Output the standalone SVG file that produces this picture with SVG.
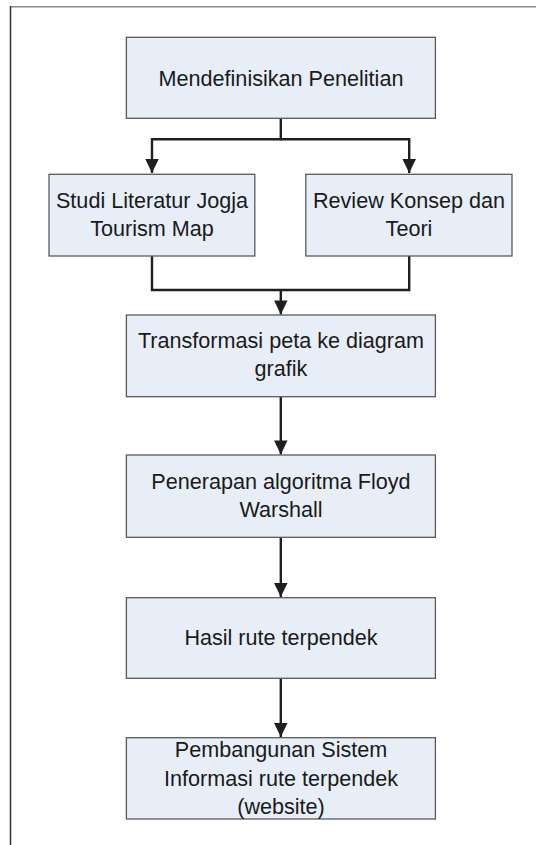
<svg xmlns="http://www.w3.org/2000/svg" width="536" height="845" viewBox="0 0 536 845">
<defs>
<style>
.box{fill:#e7eef7;stroke:#5a5a5a;stroke-width:1.3}
.lbl{font-family:"Liberation Sans",Arial,sans-serif;font-size:21.6px;fill:#1a1a1a;text-anchor:middle}
.con{fill:none;stroke:#1f1f1f;stroke-width:2.4}
</style>
<marker id="arr" markerUnits="userSpaceOnUse" markerWidth="14" markerHeight="14" viewBox="0 0 13 13.5" refX="13.5" refY="6.5" orient="auto">
<path d="M0,0 L13.5,6.5 L0,13 Z" fill="#1f1f1f"/>
</marker>
</defs>
<rect width="536" height="845" fill="#fff"/>
<line x1="10" y1="6.7" x2="536" y2="6.7" stroke="#8a8a8a" stroke-width="1.6"/>
<line x1="10.5" y1="6" x2="10.5" y2="845" stroke="#333" stroke-width="1.5"/>
<g id="connectors">
<path class="con" d="M280.8,118 V139.3 H152 V173" marker-end="url(#arr)"/>
<path class="con" d="M280.8,139.3 H409.2 V173" marker-end="url(#arr)"/>
<path class="con" d="M152,256 V290 H409.2 V256"/>
<path class="con" d="M280.8,290 V314.5" marker-end="url(#arr)"/>
<path class="con" d="M280.8,397 V454.5" marker-end="url(#arr)"/>
<path class="con" d="M280.8,537.3 V597" marker-end="url(#arr)"/>
<path class="con" d="M280.8,678.3 V737" marker-end="url(#arr)"/>
</g>
<g id="n1"><rect class="box" x="126.4" y="37.3" width="309" height="81"/><text class="lbl" x="281" y="86">Mendefinisikan Penelitian</text></g>
<g id="n2"><rect class="box" x="49" y="174.3" width="205.8" height="81.7"/><text class="lbl" x="152" y="207.5">Studi Literatur Jogja</text><text class="lbl" x="152" y="236">Tourism Map</text></g>
<g id="n3"><rect class="box" x="305.8" y="174.3" width="206.2" height="81.7"/><text class="lbl" x="409" y="207.5">Review Konsep dan</text><text class="lbl" x="409" y="236">Teori</text></g>
<g id="n4"><rect class="box" x="126.4" y="315" width="309" height="81.7"/><text class="lbl" x="281" y="348.3">Transformasi peta ke diagram</text><text class="lbl" x="281" y="376">grafik</text></g>
<g id="n5"><rect class="box" x="126.4" y="455" width="309" height="82.3"/><text class="lbl" x="281" y="489">Penerapan algoritma Floyd</text><text class="lbl" x="281" y="517.3">Warshall</text></g>
<g id="n6"><rect class="box" x="126.4" y="597.7" width="309" height="80.6"/><text class="lbl" x="281" y="645">Hasil rute terpendek</text></g>
<g id="n7"><rect class="box" x="126.4" y="737.7" width="309" height="81.3"/><text class="lbl" x="281" y="757">Pembangunan Sistem</text><text class="lbl" x="281" y="785.5">Informasi rute terpendek</text><text class="lbl" x="281" y="814">(website)</text></g>
</svg>
